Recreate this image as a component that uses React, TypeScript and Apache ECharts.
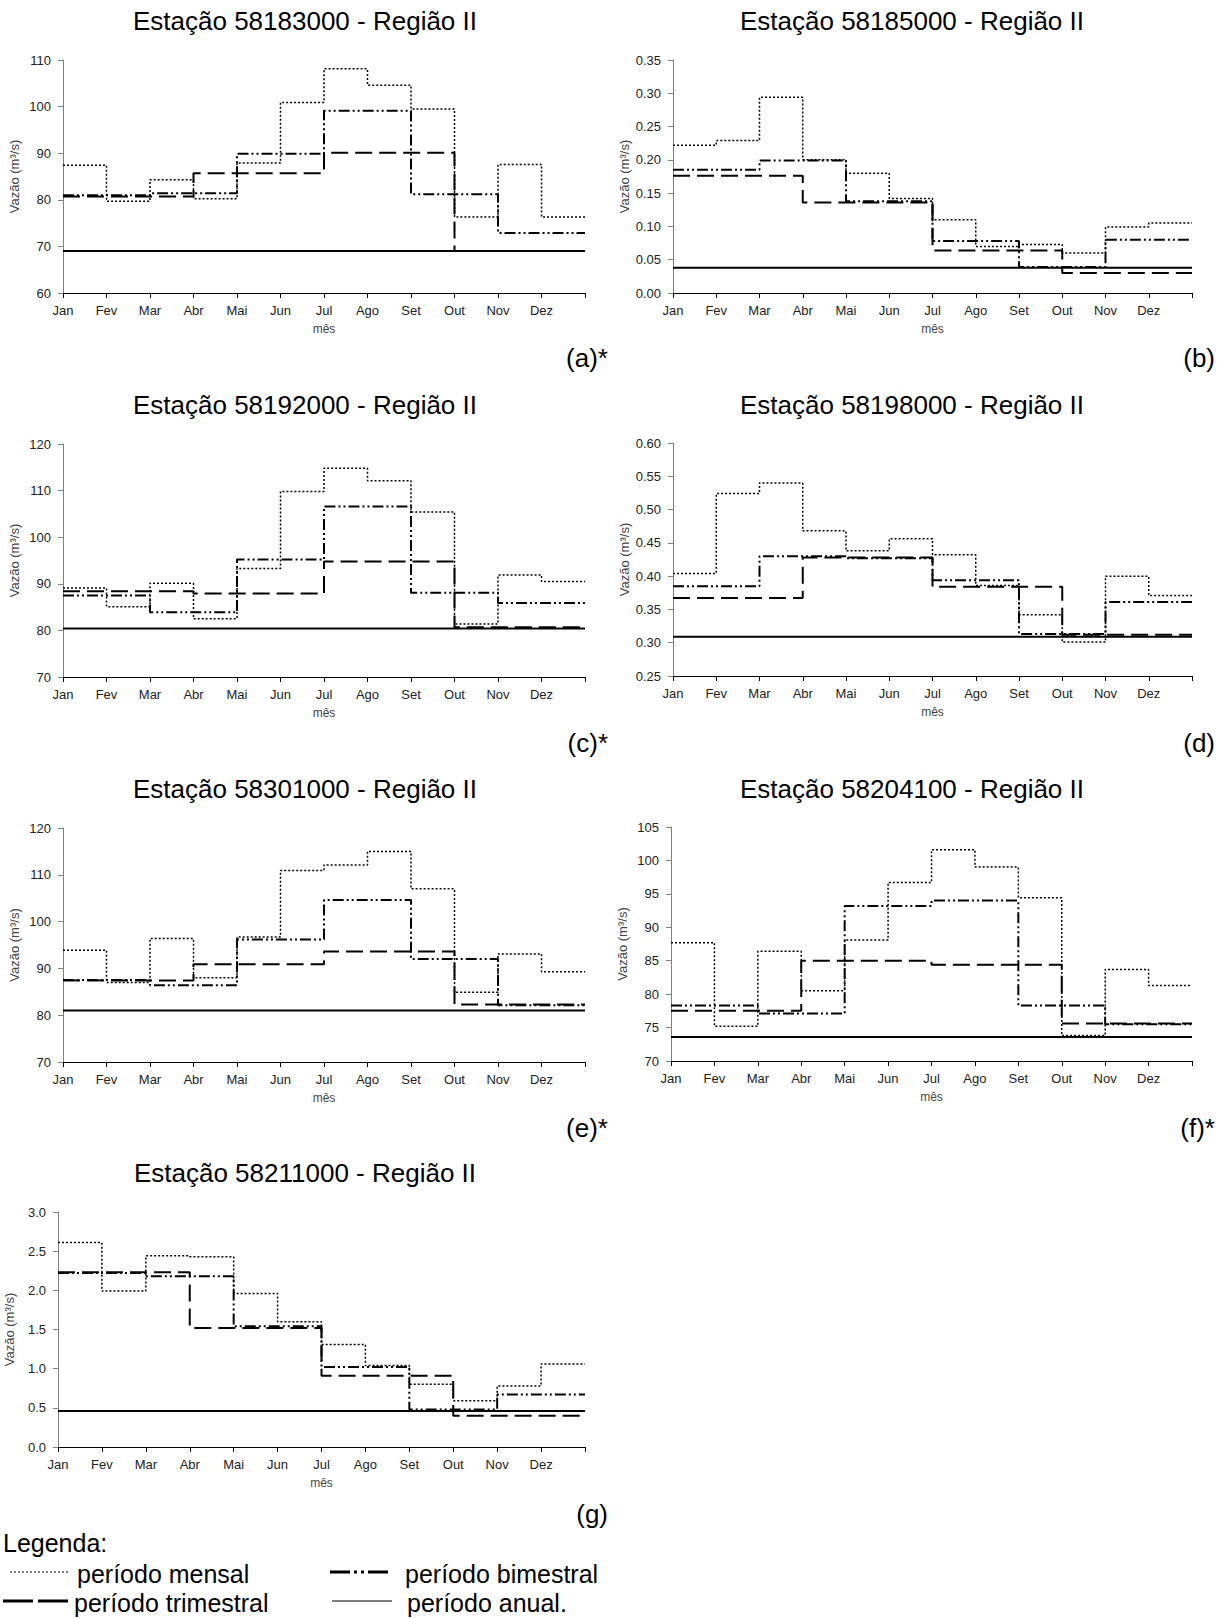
import React, { useEffect, useRef } from "react";
import * as echarts from "echarts";

const FONT = "'Liberation Sans', Arial, Helvetica, sans-serif";

const months = ["Jan", "Fev", "Mar", "Abr", "Mai", "Jun", "Jul", "Ago", "Set", "Out", "Nov", "Dez"];

// (a) Estação 58183000
const mensalA = [87.4, 79.7, 84.3, 80.2, 87.9, 100.9, 108.1, 104.6, 99.5, 76.3, 87.6, 76.3];
const bimestralA = [81.0, 81.4, 89.9, 99.1, 81.2, 72.9];
const trimestralA = [80.7, 85.7, 90.1, 69.0];
const anualA = 69.0;

// (b) Estação 58185000
const mensalB = [0.222, 0.229, 0.294, 0.2, 0.18, 0.142, 0.11, 0.07, 0.073, 0.06, 0.099, 0.105];
const bimestralB = [0.185, 0.199, 0.138, 0.078, 0.039, 0.08];
const trimestralB = [0.176, 0.136, 0.064, 0.03];
const anualB = 0.038;

// (c) Estação 58192000
const mensalC = [89.1, 85.1, 90.1, 82.5, 93.3, 109.8, 114.8, 112.1, 105.4, 81.4, 91.9, 90.5];
const bimestralC = [87.5, 83.9, 95.2, 106.6, 88.1, 85.9];
const trimestralC = [88.4, 87.9, 94.8, 80.7];
const anualC = 80.4;

// (d) Estação 58198000
const mensalD = [0.404, 0.524, 0.54, 0.468, 0.438, 0.456, 0.432, 0.386, 0.342, 0.301, 0.4, 0.371];
const bimestralD = [0.385, 0.43, 0.427, 0.394, 0.313, 0.361];
const trimestralD = [0.367, 0.428, 0.384, 0.312];
const anualD = 0.309;

// (e) Estação 58301000
const mensalE = [93.9, 87.0, 96.4, 88.0, 96.7, 110.9, 112.1, 115.0, 107.0, 84.9, 93.1, 89.3];
const bimestralE = [87.5, 86.4, 96.2, 104.6, 92.0, 82.1];
const trimestralE = [87.4, 90.9, 93.6, 82.3];
const anualE = 81.0;

// (f) Estação 58204100
const mensalF = [87.7, 75.2, 86.4, 80.5, 88.1, 96.7, 101.6, 99.0, 94.4, 73.8, 83.7, 81.3];
const bimestralF = [78.3, 77.1, 93.2, 94.0, 78.3, 75.5];
const trimestralF = [77.5, 85.0, 84.4, 75.6];
const anualF = 73.6;

// (g) Estação 58211000
const mensalG = [2.61, 1.99, 2.44, 2.43, 1.96, 1.6, 1.31, 1.04, 0.8, 0.59, 0.78, 1.06];
const bimestralG = [2.22, 2.18, 1.54, 1.02, 0.48, 0.67];
const trimestralG = [2.23, 1.52, 0.91, 0.4];
const anualG = 0.46;

const stationTitles = [
  "Estação 58183000 - Região II",
  "Estação 58185000 - Região II",
  "Estação 58192000 - Região II",
  "Estação 58198000 - Região II",
  "Estação 58301000 - Região II",
  "Estação 58204100 - Região II",
  "Estação 58211000 - Região II",
];
const panelLabels = ["(a)*", "(b)", "(c)*", "(d)", "(e)*", "(f)*", "(g)"];

// y axis: min, max, interval, decimals
const yMins = [60, 0, 70, 0.25, 70, 70, 0];
const yMaxs = [110, 0.35, 120, 0.6, 120, 105, 3];
const yIntervals = [10, 0.05, 10, 0.05, 10, 5, 0.5];
const yDecimals = [0, 2, 0, 2, 0, 0, 1];

const legendTexts = ["período mensal", "período bimestral", "período trimestral", "período anual."];

const panelData = [
  { m: mensalA, b: bimestralA, t: trimestralA, a: anualA },
  { m: mensalB, b: bimestralB, t: trimestralB, a: anualB },
  { m: mensalC, b: bimestralC, t: trimestralC, a: anualC },
  { m: mensalD, b: bimestralD, t: trimestralD, a: anualD },
  { m: mensalE, b: bimestralE, t: trimestralE, a: anualE },
  { m: mensalF, b: bimestralF, t: trimestralF, a: anualF },
  { m: mensalG, b: bimestralG, t: trimestralG, a: anualG },
];

// layout (pixels)
const grids = [
  { left: 63, top: 60, width: 522, height: 233 },
  { left: 673, top: 60, width: 519, height: 233 },
  { left: 63, top: 444, width: 522, height: 233 },
  { left: 673, top: 443, width: 519, height: 233 },
  { left: 63, top: 828, width: 522, height: 234 },
  { left: 671, top: 827, width: 521, height: 234 },
  { left: 58, top: 1212, width: 527, height: 235 },
];
const titlePos = [
  [305, 21], [912, 21], [305, 405], [912, 405], [305, 789], [912, 789], [305, 1173],
];
const labelPos = [
  [608, 358], [1215, 358], [608, 743], [1215, 743], [608, 1128], [1215, 1128], [608, 1514],
];

const stepData = (monthly: number[]) => {
  const d = monthly.map((v, i) => [i, v]);
  d.push([12, monthly[11]]);
  return d;
};
const expand = (vals: number[], per: number) => months.map((_, i) => vals[Math.floor(i / per)]);

const STYLE_MENSAL = { color: "#000", width: 1.5, type: [2, 2] as any };
const STYLE_BIM = { color: "#000", width: 2, type: [11, 3, 2, 3, 2, 3] as any };
const STYLE_TRI = { color: "#000", width: 2, type: [17, 7] as any };
const STYLE_ANU = { color: "#000", width: 2, type: "solid" as any };

function txt(text: string, x: number, y: number, size: number, align: string, vAlign = "middle", fill = "#000") {
  return {
    type: "text",
    x,
    y,
    silent: true,
    style: {
      text,
      fontSize: size,
      fontFamily: FONT,
      fill,
      align,
      verticalAlign: vAlign,
      textAlign: align,
      textVerticalAlign: vAlign,
    },
  };
}

export default function App() {
  const ref = useRef<HTMLDivElement>(null);

  useEffect(() => {
    if (!ref.current) return;
    const chart = echarts.init(ref.current, undefined, { renderer: "svg" });

    const xAxis = grids.map((_, i) => ({
      gridIndex: i,
      type: "value",
      min: 0,
      max: 12,
      interval: 1,
      axisLine: { show: true, onZero: false, lineStyle: { color: "#000", width: 1 } },
      axisTick: { show: true, length: 5, lineStyle: { color: "#000" } },
      axisLabel: {
        formatter: (v: number) => months[Math.round(v)] ?? "",
        fontSize: 13,
        color: "#222",
        margin: 11,
        fontFamily: FONT,
      },
      splitLine: { show: false },
      name: "mês",
      nameLocation: "middle",
      nameGap: 30,
      nameTextStyle: { fontSize: 12, color: "#444", fontFamily: FONT },
    }));

    const yAxis = grids.map((_, i) => ({
      gridIndex: i,
      type: "value",
      min: yMins[i],
      max: yMaxs[i],
      interval: yIntervals[i],
      axisLine: { show: true, lineStyle: { color: "#808080", width: 1 } },
      axisTick: { show: true, length: 5, lineStyle: { color: "#808080" } },
      axisLabel: {
        formatter: (v: number) => v.toFixed(yDecimals[i]),
        fontSize: 13,
        color: "#222",
        margin: 12,
        fontFamily: FONT,
      },
      splitLine: { show: false },
      name: "Vazão (m³/s)",
      nameLocation: "middle",
      nameGap: 42,
      nameTextStyle: { fontSize: 13, color: "#444", fontFamily: FONT },
    }));

    const series: any[] = [];
    panelData.forEach((p, i) => {
      const base = { type: "line", xAxisIndex: i, yAxisIndex: i, step: "end", showSymbol: false, symbol: "none", silent: true };
      series.push({ ...base, name: legendTexts[0], data: stepData(p.m), lineStyle: STYLE_MENSAL });
      series.push({ ...base, name: legendTexts[1], data: stepData(expand(p.b, 2)), lineStyle: STYLE_BIM });
      series.push({ ...base, name: legendTexts[2], data: stepData(expand(p.t, 3)), lineStyle: STYLE_TRI });
      series.push({ ...base, name: legendTexts[3], data: [[0, p.a], [12, p.a]], lineStyle: STYLE_ANU });
    });

    const graphic: any[] = [];
    stationTitles.forEach((t, i) => graphic.push(txt(t, titlePos[i][0], titlePos[i][1], 26, "center")));
    panelLabels.forEach((t, i) => graphic.push(txt(t, labelPos[i][0], labelPos[i][1], 26, "right")));

    // legend
    graphic.push(txt("Legenda:", 3, 1543, 25, "left"));
    graphic.push({ type: "line", silent: true, shape: { x1: 10, y1: 1572, x2: 70, y2: 1572 }, style: { stroke: "#555", lineWidth: 1.5, lineDash: [2, 2] } });
    graphic.push(txt(legendTexts[0], 77, 1574, 25, "left"));
    graphic.push({ type: "line", silent: true, shape: { x1: 330, y1: 1572, x2: 390, y2: 1572 }, style: { stroke: "#000", lineWidth: 3, lineDash: [20, 4, 3, 4, 3, 4] } });
    graphic.push(txt(legendTexts[1], 405, 1574, 25, "left"));
    graphic.push({ type: "line", silent: true, shape: { x1: 3, y1: 1601, x2: 70, y2: 1601 }, style: { stroke: "#000", lineWidth: 3, lineDash: [30, 5] } });
    graphic.push(txt(legendTexts[2], 74, 1603, 25, "left"));
    graphic.push({ type: "line", silent: true, shape: { x1: 332, y1: 1601, x2: 392, y2: 1601 }, style: { stroke: "#555", lineWidth: 1.5 } });
    graphic.push(txt(legendTexts[3], 407, 1603, 25, "left"));

    chart.setOption({
      animation: false,
      backgroundColor: "#fff",
      textStyle: { fontFamily: FONT },
      grid: grids.map((g) => ({ ...g, containLabel: false })),
      xAxis,
      yAxis,
      series,
      graphic,
    } as any);

    return () => chart.dispose();
  }, []);

  return (
    <div
      ref={ref}
      style={{ position: "absolute", left: 0, top: 0, width: 1229, height: 1618, background: "#fff" }}
    />
  );
}
